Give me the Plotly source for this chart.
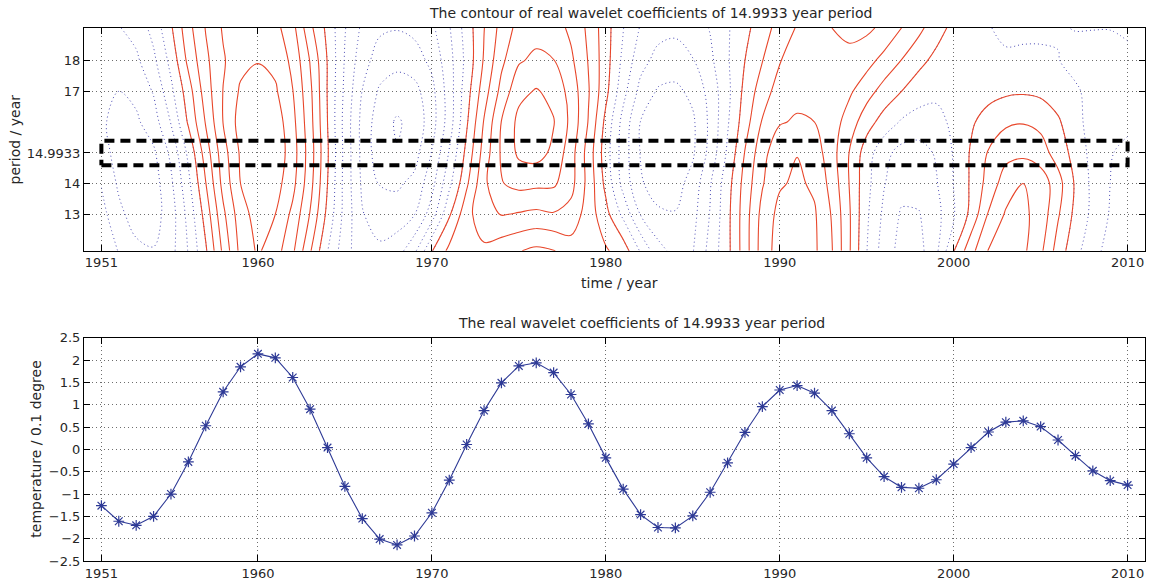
import plotly.graph_objects as go

# ---------------- data ----------------
years = list(range(1951, 2011))
periods = [11.81, 13.0, 14.0, 14.9933, 16.0, 17.0, 18.0, 19.06]
selected_period = 14.9933
band_half_width = 0.4

coef_p11_81 = [-0.80, -1.10, -1.35, -1.42, -1.20, -0.70, -0.05, 0.80, 1.55, 1.85,
               1.60, 1.15, 0.40, -0.35, -0.95, -1.30, -1.38, -1.25, -0.80, -0.02,
               0.45, 0.60, 0.65, 0.50, 0.38, 0.28, 0.34, 0.55, 0.60, 0.40,
               0.20, -0.40, -0.95, -1.20, -1.10, -0.60, -0.10, 0.55, 1.25, 1.60,
               1.65, 1.50, 1.10, 0.40, -0.35, -0.90, -1.20, -1.20, -0.80, -0.02,
               0.60, 1.10, 1.20, 1.15, 0.80, 0.20, -0.25, -0.60, -0.85, -0.95]
coef_p13 = [-0.95, -1.35, -1.60, -1.60, -1.25, -0.60, 0.15, 1.00, 1.65, 1.95,
            1.80, 1.35, 0.70, -0.10, -0.85, -1.42, -1.60, -1.62, -1.45, -0.90,
            -0.05, 0.60, 0.95, 1.10, 1.05, 1.00, 1.05, 0.95, 0.55, 0.12,
            -0.45, -1.10, -1.38, -1.42, -1.20, -0.70, -0.10, 0.55, 1.20, 1.55,
            1.62, 1.48, 1.05, 0.40, -0.30, -0.80, -1.12, -1.10, -0.85, -0.40,
            0.10, 0.75, 1.12, 1.15, 0.95, 0.40, -0.10, -0.45, -0.75, -0.90]
coef_p14 = [-1.10, -1.50, -1.72, -1.60, -1.15, -0.45, 0.35, 1.20, 1.80, 2.05,
            1.95, 1.55, 0.85, 0.00, -0.85, -1.50, -1.82, -1.86, -1.70, -1.20,
            -0.45, 0.30, 1.00, 1.42, 1.55, 1.52, 1.50, 1.20, 0.60, -0.10,
            -0.85, -1.40, -1.60, -1.58, -1.30, -0.75, -0.15, 0.50, 1.05, 1.40,
            1.50, 1.38, 0.95, 0.35, -0.25, -0.70, -0.95, -0.95, -0.75, -0.35,
            0.05, 0.50, 0.90, 1.08, 0.95, 0.50, -0.05, -0.45, -0.72, -0.85]
# real wavelet coefficients at the 14.9933 year period (lower panel)
coef_p14_9933 = [-1.26, -1.61, -1.70, -1.50, -1.00, -0.28, 0.53, 1.29, 1.85, 2.14,
                 2.05, 1.61, 0.90, 0.04, -0.83, -1.55, -2.01, -2.14, -1.94, -1.42,
                 -0.69, 0.11, 0.87, 1.49, 1.87, 1.94, 1.72, 1.23, 0.57, -0.19,
                 -0.89, -1.46, -1.75, -1.76, -1.49, -0.96, -0.30, 0.38, 0.96, 1.33,
                 1.43, 1.26, 0.87, 0.35, -0.19, -0.61, -0.85, -0.87, -0.68, -0.33,
                 0.04, 0.39, 0.61, 0.64, 0.51, 0.21, -0.14, -0.48, -0.70, -0.80]
coef_p16 = [-1.38, -1.58, -1.50, -1.25, -0.70, 0.05, 0.75, 1.45, 1.95, 2.12,
            2.00, 1.55, 0.85, 0.00, -0.85, -1.55, -2.00, -2.20, -2.05, -1.60,
            -0.90, -0.05, 0.75, 1.45, 1.90, 2.00, 1.82, 1.35, 0.70, -0.10,
            -0.85, -1.45, -1.75, -1.75, -1.50, -1.00, -0.40, 0.20, 0.75, 1.05,
            1.12, 1.08, 0.90, 0.55, 0.15, -0.15, -0.40, -0.50, -0.45, -0.30,
            -0.05, 0.15, 0.30, 0.34, 0.27, 0.05, -0.25, -0.50, -0.62, -0.65]
coef_p17 = [-1.35, -1.44, -1.35, -1.05, -0.45, 0.20, 0.90, 1.45, 1.85, 1.98,
            1.85, 1.45, 0.80, -0.02, -0.80, -1.45, -1.85, -2.00, -1.92, -1.55,
            -0.90, -0.15, 0.55, 1.20, 1.70, 1.83, 1.70, 1.30, 0.75, 0.10,
            -0.60, -1.20, -1.48, -1.52, -1.35, -0.95, -0.45, 0.10, 0.55, 0.88,
            0.98, 1.00, 0.95, 0.78, 0.50, 0.22, 0.00, -0.20, -0.30, -0.32,
            -0.25, -0.12, -0.06, -0.04, -0.08, -0.18, -0.32, -0.45, -0.55, -0.60]
coef_p18 = [-1.25, -1.30, -1.15, -0.80, -0.25, 0.45, 1.00, 1.40, 1.70, 1.78,
            1.70, 1.35, 0.70, -0.02, -0.75, -1.30, -1.60, -1.68, -1.60, -1.35,
            -0.85, -0.25, 0.40, 1.00, 1.40, 1.52, 1.45, 1.15, 0.70, 0.15,
            -0.45, -0.95, -1.20, -1.25, -1.10, -0.80, -0.40, 0.00, 0.35, 0.70,
            0.90, 1.00, 1.05, 1.00, 0.85, 0.60, 0.35, 0.10, -0.10, -0.22,
            -0.30, -0.35, -0.33, -0.30, -0.30, -0.35, -0.45, -0.50, -0.50, -0.45]
coef_p19_06 = [-1.10, -1.10, -0.95, -0.60, -0.05, 0.60, 1.10, 1.48, 1.60, 1.65,
               1.55, 1.20, 0.45, -0.10, -0.70, -1.15, -1.38, -1.42, -1.35, -1.15,
               -0.75, -0.20, 0.35, 0.85, 1.20, 1.30, 1.25, 1.00, 0.65, 0.15,
               -0.35, -0.75, -0.95, -1.00, -0.90, -0.70, -0.40, -0.10, 0.20, 0.50,
               0.75, 0.95, 1.08, 1.15, 1.15, 1.00, 0.72, 0.45, 0.15, -0.10,
               -0.25, -0.35, -0.40, -0.42, -0.42, -0.38, -0.35, -0.35, -0.35, -0.30]

coef_grid = [coef_p11_81, coef_p13, coef_p14, coef_p14_9933,
             coef_p16, coef_p17, coef_p18, coef_p19_06]

x_ticks = [1951, 1960, 1970, 1980, 1990, 2000, 2010]
top_y_ticks = [13, 14, 14.9933, 17, 18]
top_y_ticktext = ["13", "14", "14.9933", "17", "18"]
bottom_y_ticks = [-2.5, -2, -1.5, -1, -0.5, 0, 0.5, 1, 1.5, 2, 2.5]

# ---------------- styles ----------------
RED = "#e8472b"
DOT_BLUE = "#4a4ab4"
LINE_BLUE = "#2e3a96"
FONT = "DejaVu Sans"
TXT = "#262626"

fig = go.Figure()

# negative levels: blue dotted
fig.add_trace(go.Contour(
    x=years, y=periods, z=coef_grid,
    contours=dict(start=-2.16, end=0.0, size=0.36, coloring="lines", showlabels=False),
    colorscale=[[0, DOT_BLUE], [1, DOT_BLUE]], showscale=False,
    line=dict(width=1, dash="1px,3px"), hoverinfo="skip",
    xaxis="x", yaxis="y",
))
# positive levels: red solid
fig.add_trace(go.Contour(
    x=years, y=periods, z=coef_grid,
    contours=dict(start=0.0, end=2.2, size=0.36, coloring="lines", showlabels=False),
    colorscale=[[0, RED], [1, RED]], showscale=False,
    line=dict(width=1.1), hoverinfo="skip",
    xaxis="x", yaxis="y",
))
# dashed band around the selected period
t0, t1 = years[0], years[-1]
fig.add_trace(go.Scatter(
    x=[t0, t1, t1, t0, t0],
    y=[selected_period - band_half_width, selected_period - band_half_width,
       selected_period + band_half_width, selected_period + band_half_width,
       selected_period - band_half_width],
    mode="lines", line=dict(color="black", width=4, dash="10px,6px"),
    hoverinfo="skip", showlegend=False, xaxis="x", yaxis="y",
))
# lower panel
fig.add_trace(go.Scatter(
    x=years, y=coef_p14_9933, mode="lines+markers",
    line=dict(color=LINE_BLUE, width=1.1),
    marker=dict(symbol="asterisk-open", size=9, line=dict(color=LINE_BLUE, width=1.2)),
    showlegend=False, xaxis="x2", yaxis="y2",
))

axis_common = dict(
    showline=True, linecolor="black", linewidth=1, mirror="ticks",
    ticks="inside", ticklen=6, tickcolor="black", tickwidth=1,
    showgrid=True, gridcolor="#6e6e6e", griddash="1px,3px", gridwidth=1,
    zeroline=False, tickfont=dict(family=FONT, size=13, color=TXT),
)

TOP_DOM = [0.582, 1.0]
BOT_DOM = [0.0, 0.4188]

fig.update_layout(
    width=1150, height=585,
    margin=dict(l=84, r=4, t=28, b=21),
    paper_bgcolor="white", plot_bgcolor="white",
    showlegend=False,
    font=dict(family=FONT, color=TXT),
    xaxis=dict(domain=[0, 1], range=[1950, 2011], tickvals=x_ticks, anchor="y", **axis_common),
    yaxis=dict(domain=TOP_DOM, range=[11.81, 19.06], tickvals=top_y_ticks,
               ticktext=top_y_ticktext, anchor="x", **axis_common),
    xaxis2=dict(domain=[0, 1], range=[1950, 2011], tickvals=x_ticks, anchor="y2", **axis_common),
    yaxis2=dict(domain=BOT_DOM, range=[-2.5, 2.5], tickvals=bottom_y_ticks, anchor="x2", **axis_common),
    annotations=[
        dict(text="The contour of real wavelet coefficients of 14.9933 year period",
             xref="paper", yref="paper", x=0.534, y=1.028, showarrow=False,
             xanchor="center", yanchor="middle", font=dict(size=14, family=FONT, color=TXT)),
        dict(text="The real wavelet coefficients of 14.9933 year period",
             xref="paper", yref="paper", x=0.525, y=0.446, showarrow=False,
             xanchor="center", yanchor="middle", font=dict(size=14, family=FONT, color=TXT)),
        dict(text="time / year", xref="paper", yref="paper", x=0.505, y=0.522,
             showarrow=False, xanchor="center", yanchor="middle",
             font=dict(size=14, family=FONT, color=TXT)),
        dict(text="period / year", xref="paper", yref="paper", x=-0.065, y=0.791,
             showarrow=False, xanchor="center", yanchor="middle", textangle=-90,
             font=dict(size=14, family=FONT, color=TXT)),
        dict(text="temperature / 0.1 degree", xref="paper", yref="paper", x=-0.0452, y=0.209,
             showarrow=False, xanchor="center", yanchor="middle", textangle=-90,
             font=dict(size=14, family=FONT, color=TXT)),
    ],
)

fig.write_html("out.html")
